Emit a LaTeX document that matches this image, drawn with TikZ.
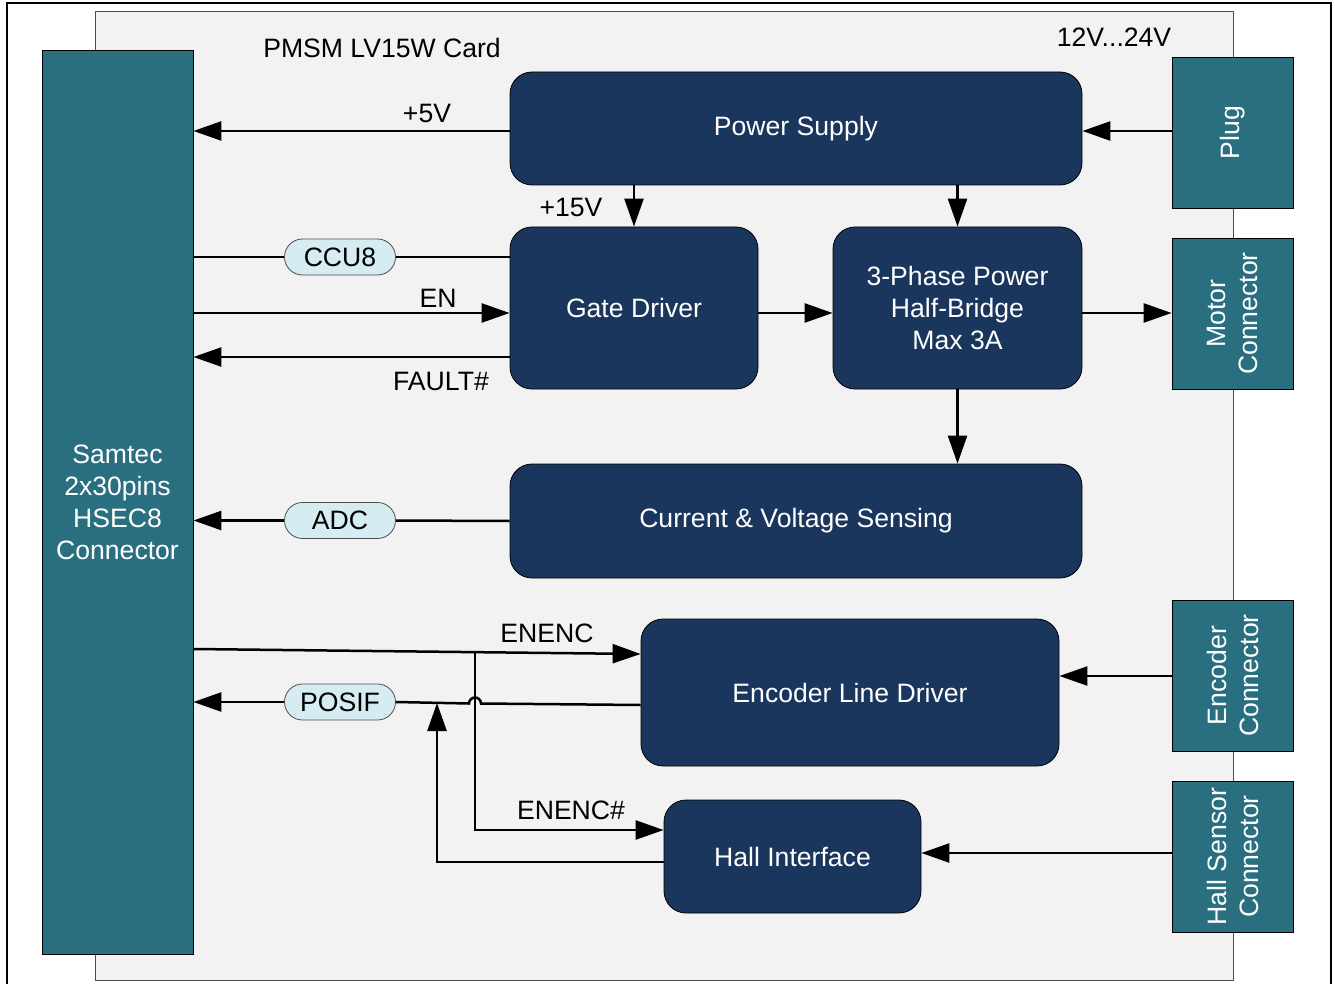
\documentclass[tikz,border=0pt]{standalone}
\usepackage{fontspec}
\setmainfont{Liberation Sans}
\usetikzlibrary{arrows.meta,calc}
\definecolor{tealc}{HTML}{2A6F80}
\definecolor{navyc}{HTML}{1B365D}
\definecolor{pillc}{HTML}{D5EDF2}
\definecolor{cardc}{HTML}{F2F2F2}
\begin{document}
\begin{tikzpicture}[x=1pt,y=-1pt,
  every node/.style={font=\fontsize{26.6}{32}\selectfont},
  connbox/.style={draw=black, line width=0.8pt, fill=tealc, inner sep=0pt, minimum width=121pt, minimum height=151pt},
  rottext/.style={rotate=90, text=white, align=center, inner sep=0pt},
  blk/.style={draw=black, line width=0.8pt, fill=navyc, text=white, rounded corners=22pt, align=center, inner sep=0pt},
  pillbox/.style={draw=black!70, line width=0.8pt, fill=pillc, rounded corners=18pt, minimum width=111pt, minimum height=36pt, inner sep=0pt},
  wire/.style={line width=2.5pt},
  arr/.style={wire, -{Triangle[length=28pt,width=19pt]}},
  lbl/.style={inner sep=0pt}]
\useasboundingbox (0,0) rectangle (1335,984);
% outer frame
\draw[line width=2.5pt] (7,984) -- (7,3) -- (1331,3) -- (1331,984);
% card
\draw[fill=cardc, draw=gray!60!black, line width=1pt] (95,12) rectangle (1233,980);
\node[lbl] (title) at (382,48) {PMSM LV15W Card};
\node[lbl] (volt) at (1114,37) {12V...24V};
% left connector
\node[connbox, minimum width=151pt, minimum height=904pt, text=white, align=center] (samtec) at (117.5,502) {Samtec\\2x30pins\\HSEC8\\Connector};
% right connectors
\node[connbox] (plug) at (1232.5,132.5) {};
\node[rottext] at (plug) {Plug};
\node[connbox] (motor) at (1232.5,313.5) {};
\node[rottext] at (motor) {Motor\\Connector};
\node[connbox] (enc) at (1232.5,675.5) {};
\node[rottext] at (enc) {Encoder\\Connector};
\node[connbox] (hall) at (1232.5,856.5) {};
\node[rottext] at (hall) {Hall Sensor\\Connector};
% blocks
\node[blk, minimum width=572pt, minimum height=113pt] (ps) at (796,128.5) {Power Supply};
\node[blk, minimum width=248pt, minimum height=162pt] (gd) at (634,308) {Gate Driver};
\node[blk, minimum width=249pt, minimum height=162pt] (tp) at (957.5,308) {3-Phase Power\\Half-Bridge\\Max 3A};
\node[blk, minimum width=572pt, minimum height=114pt] (cvs) at (796,521) {Current \& Voltage Sensing};
\node[blk, minimum width=418pt, minimum height=147pt] (eld) at (850,692.5) {Encoder Line Driver};
\node[blk, minimum width=257pt, minimum height=113pt] (hi) at (792.5,856.5) {Hall Interface};
% pills
\node[pillbox] (ccu8) at (340,257) {CCU8};
\node[pillbox] (adc) at (340,520.5) {ADC};
\node[pillbox] (posif) at (340,702) {POSIF};
% coordinates
\coordinate (jb) at (475,652);
\coordinate (jp) at (437,703);
% power connections
\draw[arr] (ps.west |- 0,131) -- (samtec.east |- 0,131);
\node[lbl] at (427,113) {+5V};
\draw[arr] (plug.west |- 0,131) -- (ps.east |- 0,131);
\draw[arr] (gd.north |- ps.south) -- (gd.north);
\node[lbl] at (571,207) {+15V};
\draw[arr] (tp.north |- ps.south) -- (tp.north);
% gate driver signals
\draw[wire] (samtec.east |- ccu8.west) -- (ccu8.west);
\draw[wire] (ccu8.east) -- (gd.west |- ccu8.east);
\draw[arr] (samtec.east |- 0,313) -- (gd.west |- 0,313);
\node[lbl] at (438,298) {EN};
\draw[arr] (gd.west |- 0,357) -- (samtec.east |- 0,357);
\node[lbl] at (441,381) {FAULT\#};
\draw[arr] (gd.east |- 0,313) -- (tp.west |- 0,313);
\draw[arr] (tp.east |- 0,313) -- (motor.west |- 0,313);
\draw[arr] (tp.south) -- (tp.south |- cvs.north);
% sensing
\draw[wire] (cvs.west |- 0,521) -- (adc.east);
\draw[arr] (adc.west) -- (samtec.east |- adc.west);
% encoder
\draw[arr] (samtec.east |- 0,649) -- (eld.west |- 0,654);
\node[lbl] at (547,633) {ENENC};
\draw[arr] (jb) -- (jb |- 0,830) -- (hi.west |- 0,830);
\node[lbl] at (571,810) {ENENC\#};
\draw[wire] (eld.west |- 0,705) -- (481,703.5) arc[start angle=0, end angle=-180, radius=6] -- (posif.east);
\draw[arr] (posif.west) -- (samtec.east |- posif.west);
\draw[arr] (hi.west |- 0,862) -- (jp |- 0,862) -- (jp);
\draw[arr] (enc.west |- 0,676) -- (eld.east |- 0,676);
\draw[arr] (hall.west |- 0,853) -- (hi.east |- 0,853);
\end{tikzpicture}
\end{document}
